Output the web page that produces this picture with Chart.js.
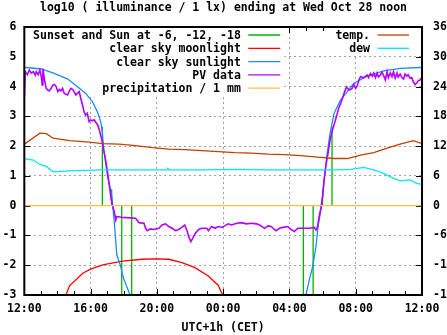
<!DOCTYPE html>
<html>
<head>
<meta charset="utf-8">
<script src="https://cdn.jsdelivr.net/npm/chart.js@4.4.0/dist/chart.umd.min.js"></script>
<style>
  html, body { margin: 0; padding: 0; background: #fff; }
  canvas { display: block; }
</style>
</head>
<body>
<canvas id="chart" width="447" height="335"></canvas>
<script>
// hours after 12:00 on the x axis
const tickLabels = ['12:00', '16:00', '20:00', '00:00', '04:00', '08:00', '12:00'];

// sunset/sunrise and sun at -6, -12, -18 deg
const sunHours = [4.71, 5.27, 5.88, 6.48, 16.84, 17.43, 18.00, 18.57];
const sunLevels = [2.65, 0.55, -3, -3, -3, -3, 0.55, 2.65];

const moonHours = [2.51, 2.73, 3.53, 4.00, 4.73, 5.92, 7.12, 7.92, 8.72, 9.52, 10.30, 11.10, 11.70, 11.97];
const moonLevels = [-3, -2.69, -2.27, -2.13, -1.99, -1.86, -1.80, -1.79, -1.80, -1.91, -2.08, -2.36, -2.67, -3];

const clearSunHours = [0, 0.12, 1.02, 1.81, 2.62, 3.21, 3.71, 4.11, 4.41, 4.61, 4.71, 4.77, 5.03, 5.28, 5.39, 5.49, 5.58, 5.79, 5.99, 6.22, 6.39,
  null,
  16.99, 17.20, 17.40, 17.60, 17.73, 17.94, 18.10, 18.25, 18.45, 18.69, 19.09, 19.89, 20.69, 21.69, 22.68, 23.88, 24];
const clearSunLevels = [4.65, 4.64, 4.59, 4.44, 4.25, 3.99, 3.77, 3.49, 3.15, 2.82, 2.48, 1.98, 0.97, 0.33, -0.31, -0.98, -1.65, -1.99, -2.44, -2.77, -3,
  null,
  -3, -2.49, -2.05, -1.38, -0.70, 0, 0.86, 1.64, 2.43, 3.10, 3.55, 4.11, 4.35, 4.53, 4.61, 4.64, 4.64];

const pvHours = [0, 0.06, 0.18, 0.30, 0.42, 0.54, 0.66, 0.72, 0.84, 0.94, 1.02, 1.08, 1.12, 1.22, 1.32, 1.42, 1.50, 1.62, 1.72, 1.82,
  1.92, 2.02, 2.12, 2.21, 2.31, 2.41, 2.61, 2.72, 2.81, 2.93, 3.11, 3.31, 3.41, 3.51, 3.61, 3.71, 3.80, 3.91, 4.01, 4.11,
  4.22, 4.31, 4.43, 4.53, 4.63, 4.73, 4.79, 4.89, 4.97, 5.03, 5.09, 5.17, 5.23, 5.33, 5.43, 5.52, 5.57, 5.69, 5.82, 6.16,
  6.72, 6.92, 7.22, 7.32, 7.42, 7.62, 7.82, 8.12, 8.32, 8.52, 8.72, 8.92, 9.12, 9.32, 9.52, 9.68, 9.82, 9.92, 10.05, 10.16,
  10.31, 10.52, 10.71, 11.01, 11.11, 11.31, 11.51, 11.71, 11.91, 12.09, 12.31, 12.51, 12.81, 13.10, 13.40, 13.71, 14.01, 14.20, 14.50, 14.71,
  14.90, 15.10, 15.20, 15.40, 15.60, 15.90, 16.10, 16.30, 16.50, 16.80, 17.20, 17.50, 17.60, 17.70, 17.79, 17.90, 18.00, 18.09, 18.19, 18.33,
  18.45, 18.60, 18.79, 18.99, 19.19, 19.33, 19.45, 19.59, 19.69, 19.79, 19.89, 19.99, 20.09, 20.19, 20.29, 20.47, 20.69, 20.77, 20.89, 21.01,
  21.09, 21.19, 21.29, 21.37, 21.49, 21.59, 21.69, 21.79, 21.89, 21.97, 22.09, 22.19, 22.28, 22.38, 22.49, 22.56, 22.68, 22.79, 22.89, 22.98,
  23.08, 23.16, 23.28, 23.38, 23.48, 23.58, 23.68, 23.78, 23.88, 23.98];
const pvLevels = [3.60, 4.50, 4.40, 4.55, 4.45, 4.50, 4.38, 4.50, 4.40, 4.55, 4.35, 4.05, 4.60, 4.22, 3.94, 3.88, 3.85, 3.94, 4.05, 4.07,
  4.00, 3.83, 3.90, 3.85, 3.94, 3.77, 3.72, 3.85, 3.94, 3.90, 3.72, 3.83, 3.60, 3.38, 3.15, 3.04, 3.10, 2.82, 2.88, 2.85,
  2.88, 2.80, 2.71, 2.54, 2.32, 2.09, 1.87, 1.59, 1.31, 1.09, 0.86, 0.53, 0.25, -0.03, -0.20, -0.48, -0.37, -0.37, -0.39, -0.40,
  -0.42, -0.57, -0.59, -0.76, -0.84, -0.78, -0.80, -0.76, -0.65, -0.61, -0.70, -0.76, -0.84, -0.80, -0.72, -0.65, -0.84, -1.04, -1.21, -1.10,
  -0.93, -0.80, -0.76, -0.76, -0.84, -0.70, -0.76, -0.70, -0.73, -0.68, -0.61, -0.65, -0.59, -0.57, -0.61, -0.59, -0.61, -0.65, -0.76, -0.68,
  -0.70, -0.80, -0.84, -0.76, -0.73, -0.70, -0.80, -0.87, -0.76, -0.76, -0.76, -0.73, -0.82, -0.70, -0.37, -0.08, 0.30, 0.86, 1.31, 1.76,
  2.20, 2.55, 2.90, 3.30, 3.58, 3.83, 3.99, 3.88, 3.90, 3.94, 4.07, 3.94, 4.02, 4.22, 4.33, 4.30, 4.39, 4.30, 4.44, 4.35,
  4.45, 4.30, 4.45, 4.32, 4.39, 4.48, 4.36, 4.22, 4.50, 4.30, 4.46, 4.33, 4.50, 4.28, 4.45, 4.32, 4.42, 4.30, 4.25, 4.42,
  4.35, 4.40, 4.28, 4.30, 4.16, 4.07, 4.12, 4.20, 4.22, 4.30];

const precipHours = [0, 6, 12, 18, 24];
const precipLevels = [0, 0, 0, 0, 0];

// right axis, deg C
const tempHours = [0, 0.94, 1.33, 1.74, 2.74, 3.93, 4.73, 5.73, 6.72, 7.72, 8.72, 9.71, 10.71, 11.71, 12.71, 13.71, 14.71,
  15.70, 16.70, 17.70, 18.69, 19.49, 20.29, 21.09, 21.89, 22.68, 23.48, 24];
const tempValues = [12.4, 14.6, 14.5, 13.6, 13.1, 12.8, 12.5, 12.4, 12.1, 11.7, 11.4, 11.3, 11.1, 10.9, 10.7, 10.6, 10.4,
  10.3, 10.1, 9.8, 9.5, 9.5, 10.2, 10.7, 11.6, 12.4, 13.1, 12.5];

const dewHours = [0, 0.54, 0.94, 1.33, 1.74, 2.73, 4.73, 8.60, 8.66, 8.73, 10.71, 12.71, 14.71, 16.71, 18.69, 19.69,
  20.49, 21.09, 21.68, 22.28, 22.68, 23.28, 23.68, 24];
const dewValues = [9.5, 9.2, 8.3, 7.9, 6.8, 7.0, 7.2, 7.2, 7.5, 7.2, 7.2, 7.3, 7.2, 7.2, 7.2, 7.3,
  7.7, 7.2, 6.5, 5.5, 5.0, 5.2, 4.5, 4.3];

const FONT = 'bold 11.5px "DejaVu Sans Mono"';
const tickFont = { family: 'DejaVu Sans Mono', weight: 'bold', size: 11.5 };

const colors = {
  sun: '#00b400',
  moon: '#ff0000',
  clear: '#1a8cff',
  pv: '#b400ff',
  precip: '#ffc040',
  temp: '#c04000',
  dew: '#00e8f0'
};

function toPoints(xs, ys) {
  return xs.map((x, i) => ({ x: x, y: ys[i] }));
}

function impulses(xs, ys) {
  const pts = [];
  xs.forEach((x, i) => {
    pts.push({ x: x, y: 0 }, { x: x, y: ys[i] }, { x: x, y: null });
  });
  return pts;
}

const keyLeft = [
  ['Sunset and Sun at -6, -12, -18', colors.sun],
  ['clear sky moonlight', colors.moon],
  ['clear sky sunlight', colors.clear],
  ['PV data', colors.pv],
  ['precipitation / 1 mm', colors.precip]
];
const keyRight = [
  ['temp.', colors.temp],
  ['dew', colors.dew]
];

const gnuplotLook = {
  id: 'gnuplotLook',
  beforeDatasetsDraw(chart) {
    const { ctx, chartArea: a, scales } = chart;
    ctx.save();
    ctx.strokeStyle = '#000';
    ctx.lineWidth = 1;
    ctx.beginPath();
    for (let h = 0; h <= 24; h++) {
      const x = Math.round(scales.x.getPixelForValue(h)) + 0.5;
      const len = h % 4 === 0 ? 6 : 4;
      ctx.moveTo(x, a.bottom);
      ctx.lineTo(x, a.bottom - len);
      ctx.moveTo(x, a.top);
      ctx.lineTo(x, a.top + len);
    }
    for (let v = -3; v <= 6; v++) {
      const y = Math.round(scales.y.getPixelForValue(v)) + 0.5;
      ctx.moveTo(a.left, y);
      ctx.lineTo(a.left + 6, y);
      ctx.moveTo(a.right, y);
      ctx.lineTo(a.right - 6, y);
    }
    ctx.stroke();
    // opaque key boxes hide the grid
    ctx.fillStyle = '#fff';
    ctx.fillRect(a.left, a.top, 260, 70);
    ctx.fillRect(a.right - 92, a.top, 88, 28);
    ctx.restore();
  },
  afterDatasetsDraw(chart) {
    const { ctx, chartArea: a } = chart;
    ctx.save();
    ctx.font = FONT;
    ctx.textAlign = 'right';
    ctx.textBaseline = 'middle';
    keyLeft.forEach(([label, color], i) => {
      const y = a.top + 8 + i * 13.3;
      ctx.fillStyle = '#000';
      ctx.fillText(label, a.left + 216.5, y + 1);
      ctx.strokeStyle = color;
      ctx.lineWidth = 1.3;
      ctx.beginPath();
      ctx.moveTo(a.left + 224, y);
      ctx.lineTo(a.left + 256, y);
      ctx.stroke();
    });
    keyRight.forEach(([label, color], i) => {
      const y = a.top + 8 + i * 13.3;
      ctx.fillStyle = '#000';
      ctx.fillText(label, a.right - 52, y + 1);
      ctx.strokeStyle = color;
      ctx.lineWidth = 1.3;
      ctx.beginPath();
      ctx.moveTo(a.right - 44.5, y);
      ctx.lineTo(a.right - 13, y);
      ctx.stroke();
    });
    ctx.strokeStyle = '#000';
    ctx.lineWidth = 2;
    ctx.strokeRect(a.left, a.top, a.right - a.left, a.bottom - a.top);
    ctx.restore();
  }
};

const ctx = document.getElementById('chart').getContext('2d');

new Chart(ctx, {
  type: 'line',
  data: {
    datasets: [
      {
        label: 'Sunset and Sun at -6, -12, -18',
        data: impulses(sunHours, sunLevels),
        borderColor: colors.sun,
        borderWidth: 1.3,
        yAxisID: 'y',
        order: 7
      },
      {
        label: 'clear sky moonlight',
        data: toPoints(moonHours, moonLevels),
        borderColor: colors.moon,
        borderWidth: 1.3,
        yAxisID: 'y',
        order: 6
      },
      {
        label: 'clear sky sunlight',
        data: toPoints(clearSunHours, clearSunLevels),
        borderColor: colors.clear,
        borderWidth: 1.3,
        yAxisID: 'y',
        order: 5
      },
      {
        label: 'PV data',
        data: toPoints(pvHours, pvLevels),
        borderColor: colors.pv,
        borderWidth: 1.6,
        yAxisID: 'y',
        order: 4
      },
      {
        label: 'precipitation / 1 mm',
        data: toPoints(precipHours, precipLevels),
        borderColor: colors.precip,
        borderWidth: 1.3,
        yAxisID: 'y',
        order: 3
      },
      {
        label: 'temp.',
        data: toPoints(tempHours, tempValues),
        borderColor: colors.temp,
        borderWidth: 1.3,
        yAxisID: 'y2',
        order: 2
      },
      {
        label: 'dew',
        data: toPoints(dewHours, dewValues),
        borderColor: colors.dew,
        borderWidth: 1.3,
        yAxisID: 'y2',
        order: 1
      }
    ]
  },
  options: {
    responsive: false,
    animation: false,
    devicePixelRatio: 1,
    layout: { padding: 0 },
    elements: {
      point: { radius: 0 },
      line: { tension: 0, fill: false }
    },
    plugins: {
      legend: { display: false },
      tooltip: { enabled: false },
      title: {
        display: true,
        text: 'log10 ( illuminance / 1 lx) ending at Wed Oct 28 noon',
        color: '#000',
        font: tickFont,
        padding: { top: 1.5, bottom: 11.7 }
      }
    },
    scales: {
      x: {
        type: 'linear',
        min: 0,
        max: 24,
        afterFit: (scale) => { scale.height = 40; },
        ticks: {
          stepSize: 4,
          autoSkip: false,
          maxRotation: 0,
          padding: 7,
          color: '#000',
          font: tickFont,
          callback: (v) => tickLabels[v / 4]
        },
        grid: { color: '#a0a0a0', lineWidth: 1, drawTicks: false },
        border: { display: false, dash: [2, 3] },
        title: {
          display: true,
          text: 'UTC+1h (CET)',
          color: '#000',
          font: tickFont,
          padding: { top: 0, bottom: 0 }
        }
      },
      y: {
        position: 'left',
        min: -3,
        max: 6,
        afterFit: (scale) => { scale.width = 21; },
        ticks: { stepSize: 1, padding: 8, color: '#000', font: tickFont },
        grid: { color: '#a0a0a0', lineWidth: 1, drawTicks: false },
        border: { display: false, dash: [2, 3] }
      },
      y2: {
        position: 'right',
        min: -18,
        max: 36,
        afterFit: (scale) => { scale.width = 25; },
        ticks: { stepSize: 6, padding: 11, color: '#000', font: tickFont },
        grid: { display: false, drawTicks: false },
        border: { display: false }
      }
    }
  },
  plugins: [gnuplotLook]
});
</script>
</body>
</html>
